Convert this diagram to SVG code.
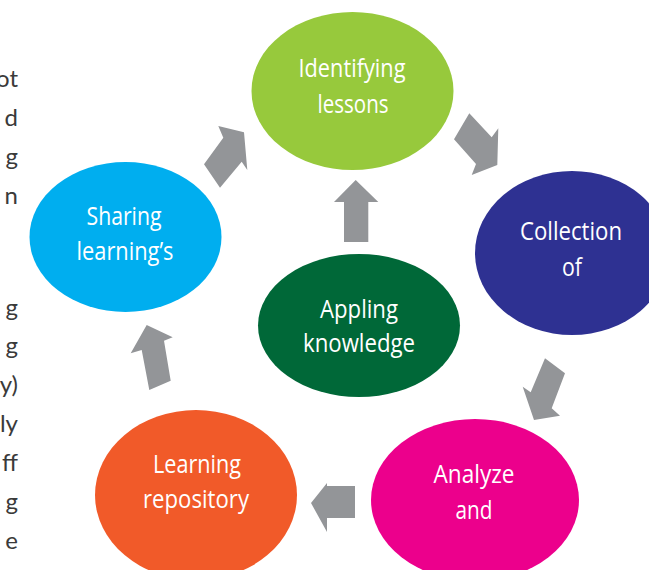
<svg xmlns="http://www.w3.org/2000/svg" width="649" height="570" viewBox="0 0 649 570">
<style>
.lbl{font-family:"Open Sans","Noto Sans",sans-serif;font-size:26px;fill:#ffffff;text-anchor:middle}
.frag{font-family:Lato,"DejaVu Sans",sans-serif;font-size:24px;fill:#3a3a3a;text-anchor:end}
.arr{fill:#939598}
</style>
<rect width="649" height="570" fill="#ffffff"/>
<g id="page-text">
<text class="frag" x="18" y="87">ot</text>
<text class="frag" x="18" y="126">d</text>
<text class="frag" x="18" y="165">g</text>
<text class="frag" x="18" y="204">n</text>
<text class="frag" x="18" y="316">g</text>
<text class="frag" x="18" y="354">g</text>
<text class="frag" x="18" y="393">y)</text>
<text class="frag" x="18" y="432">ly</text>
<text class="frag" x="18" y="471">ff</text>
<text class="frag" x="18" y="510">g</text>
<text class="frag" x="18" y="549">e</text>
</g>
<g id="connectors">
<polygon class="arr" points="355.7,180 378.3,202 368.3,202 368.3,242 344,242 344,202 334,202"/>
<polygon class="arr" points="469.3,113.3 491.7,137.3 498.3,128.3 497.3,165 471.7,175 476,164 454,139.3"/>
<polygon class="arr" points="545,358.3 565,373.3 551.7,408.3 560,415.7 534,420 522.7,386.7 530.7,392.3"/>
<polygon class="arr" points="311,503 327,483 327,486 355,486 355,518 327,518 327,532"/>
<polygon class="arr" points="146.7,325 172.7,337.3 164,340.7 170.7,380.7 149.3,390 141.7,350 130.7,353.3"/>
<polygon class="arr" points="244,132.3 218.3,126 223.3,137.7 204,164.3 220,187.7 241.7,161.7 247.3,170"/>
</g>
<g id="identifying">
<ellipse cx="352.5" cy="91" rx="101" ry="79" fill="#97c93c"/>
<text class="lbl" x="352" y="77" textLength="107" lengthAdjust="spacingAndGlyphs">Identifying</text>
<text class="lbl" x="353" y="113" textLength="71" lengthAdjust="spacingAndGlyphs">lessons</text>
</g>
<g id="collection">
<ellipse cx="572" cy="253" rx="97" ry="82" fill="#2e3192"/>
<text class="lbl" x="571" y="240" textLength="102" lengthAdjust="spacingAndGlyphs">Collection</text>
<text class="lbl" x="572" y="276" textLength="20" lengthAdjust="spacingAndGlyphs">of</text>
</g>
<g id="analyze">
<ellipse cx="475" cy="500" rx="104" ry="81" fill="#ec008c"/>
<text class="lbl" x="474" y="483" textLength="81" lengthAdjust="spacingAndGlyphs">Analyze</text>
<text class="lbl" x="474" y="519" textLength="37" lengthAdjust="spacingAndGlyphs">and</text>
</g>
<g id="repository">
<ellipse cx="196" cy="495" rx="101" ry="85" fill="#f15a29"/>
<text class="lbl" x="197" y="473" textLength="88" lengthAdjust="spacingAndGlyphs">Learning</text>
<text class="lbl" x="196" y="508" textLength="106" lengthAdjust="spacingAndGlyphs">repository</text>
</g>
<g id="sharing">
<ellipse cx="125.5" cy="237" rx="96" ry="75" fill="#00aeef"/>
<text class="lbl" x="124" y="225" textLength="75" lengthAdjust="spacingAndGlyphs">Sharing</text>
<text class="lbl" x="125" y="260" textLength="97" lengthAdjust="spacingAndGlyphs">learning’s</text>
</g>
<g id="applying">
<ellipse cx="359" cy="325.5" rx="101" ry="71.5" fill="#006838"/>
<text class="lbl" x="359" y="318" textLength="78" lengthAdjust="spacingAndGlyphs">Appling</text>
<text class="lbl" x="359" y="352" textLength="112" lengthAdjust="spacingAndGlyphs">knowledge</text>
</g>
</svg>
